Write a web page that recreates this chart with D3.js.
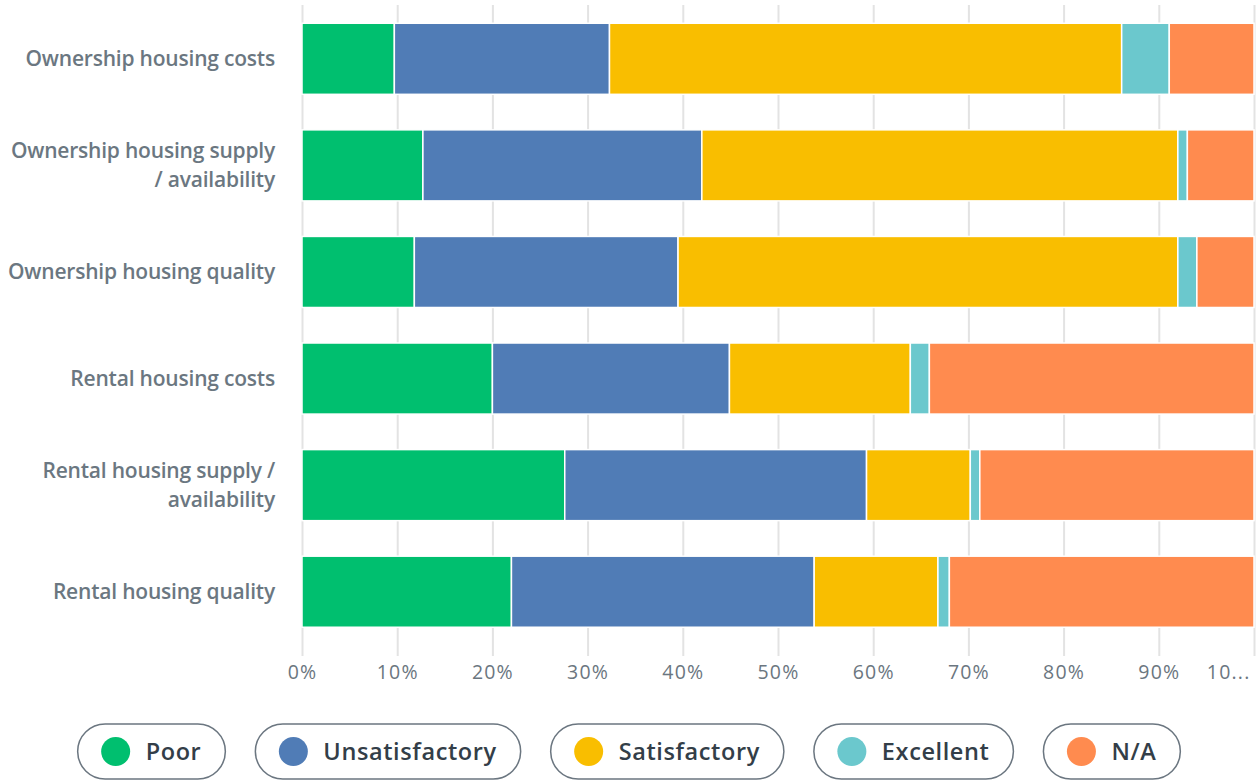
<!DOCTYPE html>
<html>
<head>
<meta charset="utf-8">
<script src="https://cdn.jsdelivr.net/npm/d3@7"></script>
<style>
  body { margin: 0; background: #fff; }
  svg { display: block; }
</style>
</head>
<body>
<div id="chart"></div>
<script>
// categories (rows, top to bottom)
const categories = [
    "Ownership housing costs",
    "Ownership housing supply\n/ availability",
    "Ownership housing quality",
    "Rental housing costs",
    "Rental housing supply /\navailability",
    "Rental housing quality"
];

// answer choices (stack order) and their colors
const answers = ["Poor", "Unsatisfactory", "Satisfactory", "Excellent", "N/A"];
const answerColors = ["#00bf6f", "#507cb6", "#f9be00", "#6bc8cd", "#ff8b4f"];

// percent values per answer, one entry per category
const poor           = [9.7, 12.7, 11.8, 20.0, 27.6, 22.0];
const unsatisfactory = [22.6, 29.3, 27.7, 24.9, 31.7, 31.8];
const satisfactory   = [53.8, 50.0, 52.5, 19.0, 10.9, 13.0];
const excellent      = [5.0, 1.0, 2.0, 2.0, 1.0, 1.2];
const notApplicable  = [8.9, 7.0, 6.0, 34.1, 28.8, 32.0];

const xTicks = [0, 10, 20, 30, 40, 50, 60, 70, 80, 90, 100];

const width = 1258, height = 780;
const marginLeft = 302, marginRight = 4;
const font = "'Open Sans', sans-serif";

// build table for the stack
const series = [poor, unsatisfactory, satisfactory, excellent, notApplicable];
const table = categories.map((c, i) => {
    const row = { name: c };
    answers.forEach((a, j) => row[a] = series[j][i]);
    return row;
});

const svg = d3.select("#chart").append("svg")
    .attr("width", width)
    .attr("height", height)
    .attr("font-family", font);

const x = d3.scaleLinear()
    .domain([0, 100])
    .range([marginLeft, width - marginRight]);

const y = d3.scaleBand()
    .domain(categories)
    .range([5.5, 645])
    .paddingInner(1 / 3)
    .paddingOuter(1 / 6);

const color = d3.scaleOrdinal(answers, answerColors);

// gridlines + tick labels
const axisY = 656;
const xAxis = d3.axisBottom(x)
    .tickValues(xTicks)
    .tickSizeInner(-(axisY - 5))
    .tickSizeOuter(0)
    .tickPadding(9)
    .tickFormat(d => d === 100 ? "10..." : d + "%");

const gx = svg.append("g")
    .attr("transform", `translate(0,${axisY})`)
    .call(xAxis);
gx.select(".domain").remove();
gx.selectAll(".tick line")
    .attr("stroke", "#e3e3e3")
    .attr("stroke-width", 2);
gx.selectAll(".tick text")
    .attr("fill", "#6b7680")
    .attr("font-size", 19.5)
    .attr("font-weight", 500)
    .attr("letter-spacing", 1.2)
    .attr("font-family", font);
// last label is clipped by the plot edge, so it sits left of its tick
gx.selectAll(".tick text")
    .filter(d => d === 100)
    .attr("text-anchor", "end")
    .attr("x", -4);

// stacked bars
const stack = d3.stack().keys(answers)(table);

svg.append("g")
    .selectAll("g")
    .data(stack)
    .join("g")
    .attr("fill", d => color(d.key))
    .selectAll("rect")
    .data(d => d)
    .join("rect")
    .attr("x", d => x(d[0]))
    .attr("y", d => y(d.data.name))
    .attr("width", d => x(d[1]) - x(d[0]))
    .attr("height", y.bandwidth())
    .attr("stroke", "#fff")
    .attr("stroke-width", 1.5);

// category labels
const labels = svg.append("g")
    .attr("text-anchor", "end")
    .attr("fill", "#6b7781")
    .attr("font-size", 21)
    .attr("font-weight", 600)
    .attr("letter-spacing", -0.2)
    .selectAll("text")
    .data(categories)
    .join("text")
    .attr("transform", d => `translate(275,${y(d) + y.bandwidth() / 2})`);

labels.selectAll("tspan")
    .data(d => d.split("\n"))
    .join("tspan")
    .attr("x", 0)
    .attr("y", (d, i, D) => (i - (D.length - 1) / 2) * 29)
    .attr("dy", "0.35em")
    .text(d => d);

// legend pills
const legend = svg.append("g")
    .attr("font-size", 23.5)
    .attr("font-weight", 600)
    .attr("letter-spacing", 0.6);

const pillH = 55, pillGap = 30, legendY = 724;
const items = legend.selectAll("g")
    .data(answers)
    .join("g");

items.append("text")
    .attr("fill", "#333e48")
    .attr("dy", "0.35em")
    .attr("y", pillH / 2)
    .attr("x", 68)
    .text(d => d);

const widths = [];
items.each(function () {
    widths.push(68 + d3.select(this).select("text").node().getComputedTextLength() + 24);
});
const total = d3.sum(widths) + pillGap * (widths.length - 1);
let cx = (width - total) / 2;

items.each(function (d, i) {
    const g = d3.select(this)
        .attr("transform", `translate(${cx},${legendY})`);
    g.insert("rect", "text")
        .attr("width", widths[i])
        .attr("height", pillH)
        .attr("rx", pillH / 2)
        .attr("fill", "#fff")
        .attr("stroke", "#6b7680")
        .attr("stroke-width", 1.5);
    g.insert("circle", "text")
        .attr("cx", 38)
        .attr("cy", pillH / 2)
        .attr("r", 14.5)
        .attr("fill", color(d));
    cx += widths[i] + pillGap;
});
</script>
</body>
</html>
